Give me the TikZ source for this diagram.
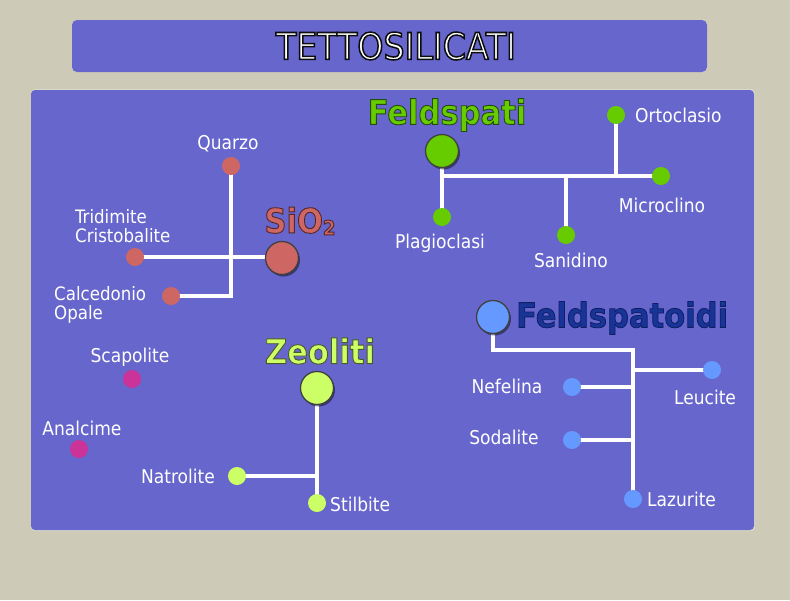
\documentclass[tikz,border=0pt]{standalone}
\usepackage{fontspec}
\setmainfont{DejaVu Sans Condensed}
\usetikzlibrary{shadows}
\definecolor{bgc}{RGB}{205,203,184}
\definecolor{panel}{RGB}{102,102,204}
\definecolor{salmon}{RGB}{206,102,100}
\definecolor{fgreen}{RGB}{102,204,0}
\definecolor{zyell}{RGB}{204,255,102}
\definecolor{fblue}{RGB}{102,153,255}
\definecolor{fdtext}{RGB}{24,52,150}
\definecolor{magen}{RGB}{204,51,153}
\pgfdeclarelayer{bg}
\pgfdeclarelayer{lines}
\pgfsetlayers{bg,lines,main}
% #1 stroke rgb, #2 stroke width, #3 fill colour, #4 text
\newcommand\strk[4]{{\color{#3}\special{pdf:literal direct #1 RG #2 w 2 Tr}#4\special{pdf:literal direct 0 Tr}}}
\tikzset{
  dot/.style={circle, inner sep=0pt, minimum size=18pt, fill=#1},
  bigdot/.style={circle, inner sep=0pt, minimum size=33pt, fill=#1, draw=black!75, line width=1.3pt,
     drop shadow={shadow xshift=1.5pt, shadow yshift=-2pt, fill=black, opacity=0.45}},
  lbl/.style={text=white, font=\fontsize{19}{17}\selectfont, inner sep=0pt, align=left},
  lbltwo/.style={lbl, font=\fontsize{18.5}{19}\selectfont},
  big/.style={font=\fontsize{34}{36}\selectfont\bfseries, inner sep=0pt},
  link/.style={white, line width=4pt},
}
\begin{document}
\begin{tikzpicture}[x=1pt,y=-1pt]
\begin{pgfonlayer}{bg}
\fill[bgc] (0,0) rectangle (790,600);
\fill[panel, rounded corners=5pt] (72,20) rectangle (707,72);
\fill[white, opacity=0.25, rounded corners=4pt] (31,89) rectangle (755,531);
\fill[panel, rounded corners=4pt] (31,90) rectangle (754,530);
\end{pgfonlayer}
\useasboundingbox (0,0) rectangle (790,600);

\node[font=\fontsize{37}{40}\selectfont, inner sep=0pt] (title) at (396,46) {\strk{0.05 0.05 0.05}{1.5}{white}{TETTOSILICATI}};

% SiO2 group
\node[dot=salmon] (quarzo) at (231,166) {};
\node[dot=salmon] (trid) at (135,257) {};
\node[dot=salmon] (calc) at (171,296) {};
\node[bigdot=salmon] (sio2) at (282,258) {};
\node[big] (sio2t) at (300,221) {\strk{0.35 0.15 0.15}{0.9}{salmon}{SiO\raisebox{-2pt}{\fontsize{20}{20}\selectfont 2}}};
\node[lbl] (lquarzo) at (228,144) {Quarzo};
\node[lbltwo, anchor=west] (ltrid) at (75,226) {Tridimite\\Cristobalite};
\node[lbltwo, anchor=west] (lcalc) at (54,305) {Calcedonio\\Opale};

% Feldspati
\node[bigdot=fgreen] (fbig) at (442,151) {};
\node[dot=fgreen] (plag) at (442,217) {};
\node[dot=fgreen] (micro) at (661,176) {};
\node[dot=fgreen] (orto) at (616,115) {};
\node[dot=fgreen] (sani) at (566,235) {};
\node[big] (fbigt) at (447,115) {\strk{0.15 0.3 0.05}{0.9}{fgreen}{Feldspati}};
\node[lbl] (lplag) at (440,243) {Plagioclasi};
\node[lbl] (lsani) at (571,260) {Sanidino};
\node[lbl] (lmicro) at (662,205) {Microclino};
\node[lbl, anchor=west] (lorto) at (635,115) {Ortoclasio};

% Feldspatoidi
\node[bigdot=fblue] (fdbig) at (493,317) {};
\coordinate (fdJ) at (633,350);
\node[dot=fblue] (laz) at (633,499) {};
\node[dot=fblue] (leu) at (712,370) {};
\node[dot=fblue] (nef) at (572,387) {};
\node[dot=fblue] (sod) at (572,440) {};
\node[big, anchor=west] (fdt) at (516,318) {\strk{0.06 0.12 0.4}{0.8}{fdtext}{Feldspatoidi}};
\node[lbl] (lnef) at (507,386) {Nefelina};
\node[lbl] (lsod) at (504,437) {Sodalite};
\node[lbl] (lleu) at (705,397) {Leucite};
\node[lbl, anchor=west] (llaz) at (647,499) {Lazurite};

% Zeoliti
\node[bigdot=zyell] (zbig) at (317,388) {};
\node[dot=zyell] (stil) at (317,503) {};
\node[dot=zyell] (natr) at (237,476) {};
\node[big] (zt) at (320,351) {\strk{0.3 0.35 0.15}{0.9}{zyell}{Zeoliti}};
\node[lbl] (lnatr) at (178,476) {Natrolite};
\node[lbl, anchor=west] (lstil) at (330,504) {Stilbite};

% others
\node[dot=magen] (scap) at (132,379) {};
\node[dot=magen] (anal) at (79,449) {};
\node[lbl] (lscap) at (130,357) {Scapolite};
\node[lbl] (lanal) at (82,428) {Analcime};

\begin{pgfonlayer}{lines}
\draw[link] (quarzo.center) -- (quarzo.center |- calc.center) -- (calc.center);
\draw[link] (trid.center) -- (sio2.center |- trid.center);
\draw[link] (fbig.center) -- (plag.center);
\draw[link] (fbig.center |- micro.center) -- (micro.center);
\draw[link] (orto.center) -- (orto.center |- micro.center);
\draw[link] (sani.center) -- (sani.center |- micro.center);
\draw[link] (fdbig.center) -- (fdbig.center |- fdJ) -- (fdJ) -- (laz.center);
\draw[link] (leu.center) -- (leu.center -| fdJ);
\draw[link] (nef.center) -- (nef.center -| fdJ);
\draw[link] (sod.center) -- (sod.center -| fdJ);
\draw[link] (zbig.center) -- (stil.center);
\draw[link] (natr.center) -- (natr.center -| zbig.center);
\end{pgfonlayer}
\end{tikzpicture}
\end{document}
